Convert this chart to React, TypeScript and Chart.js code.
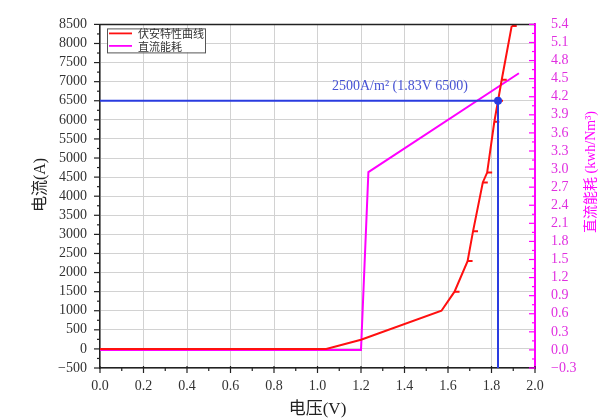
import { useEffect, useRef } from 'react';
import { Chart, registerables } from 'chart.js';

Chart.register(...registerables);

// 伏安特性曲线 (voltage V, current A)
const ivVoltage = [0, 1.04, 1.2, 1.57, 1.63, 1.69, 1.715, 1.76, 1.78, 1.813, 1.83, 1.847, 1.893];
const ivCurrent = [0, 0, 240, 1000, 1500, 2300, 3080, 4360, 4620, 5950, 6500, 7050, 8460];
// 直流能耗 (voltage V, kwh/Nm3)
const energyVoltage = [0, 1.2, 1.234, 1.926];
const energyValue = [0, 0, 2.95, 4.59];
// operating point
const markVoltage = 1.83;
const markCurrent = 6500;
const markLabel = '2500A/m\u00B2 (1.83V 6500)';

const legendLabels = ['伏安特性曲线', '直流能耗'];
const xTitle = '电压(V)';
const yTitle = '电流(A)';
const y2Title = '直流能耗 (kwh/Nm\u00B3)';

const RED = '#ff1010';
const MAGENTA = '#ff00ff';
const BLUE = '#2a3ce0';
const SERIF = '"Liberation Serif", "Noto Sans CJK SC", serif';
const CJK = '"Noto Sans CJK SC", "Liberation Serif", sans-serif';

const fmtNum = (v: number, d: number) => {
  const s = Math.abs(v) < 1e-9 ? (0).toFixed(d) : v.toFixed(d);
  return s.replace('-', '\u2212');
};

const overlay = {
  id: 'overlay',
  afterDraw(chart: any) {
    const { ctx, chartArea: a, scales } = chart;
    const xs = scales.x, ys = scales.y, y2s = scales.y2;
    ctx.save();
    // top frame
    ctx.strokeStyle = '#222';
    ctx.lineWidth = 1.5;
    ctx.beginPath();
    ctx.moveTo(a.left, a.top);
    ctx.lineTo(a.right, a.top);
    ctx.stroke();

    // x ticks
    ctx.lineWidth = 1.2;
    for (let i = 0; i <= 20; i++) {
      const px = xs.getPixelForValue(i * 0.1);
      const major = i % 2 === 0;
      ctx.beginPath();
      ctx.moveTo(px, a.bottom - (major ? 2 : 0));
      ctx.lineTo(px, a.bottom + (major ? 5 : 3));
      ctx.stroke();
    }
    // left ticks
    for (let i = 0; i <= 36; i++) {
      const py = ys.getPixelForValue(-500 + i * 250);
      const major = i % 2 === 0;
      ctx.beginPath();
      ctx.moveTo(a.left - (major ? 6 : 3), py);
      ctx.lineTo(a.left, py);
      ctx.stroke();
    }
    // right ticks (inward)
    ctx.strokeStyle = MAGENTA;
    for (let i = 0; i <= 38; i++) {
      const py = y2s.getPixelForValue(-0.3 + i * 0.15);
      const major = i % 2 === 0;
      ctx.beginPath();
      ctx.moveTo(a.right - (major ? 6 : 3), py);
      ctx.lineTo(a.right, py);
      ctx.stroke();
    }

    // annotation text
    ctx.fillStyle = '#4652d4';
    ctx.font = `14px ${SERIF}`;
    ctx.textAlign = 'right';
    ctx.textBaseline = 'middle';
    ctx.fillText(markLabel, xs.getPixelForValue(markVoltage) - 30, ys.getPixelForValue(markCurrent) - 14);

    // legend
    const lx = a.left + 7, ly = a.top + 4;
    ctx.fillStyle = '#fff';
    ctx.fillRect(lx, ly, 98, 24);
    ctx.strokeStyle = '#555';
    ctx.lineWidth = 1;
    ctx.strokeRect(lx + 0.5, ly + 0.5, 98, 24);
    const colors = [RED, MAGENTA];
    ctx.font = `11px ${CJK}`;
    ctx.textAlign = 'left';
    legendLabels.forEach((t, i) => {
      const yy = ly + 5 + i * 12.5;
      ctx.strokeStyle = colors[i];
      ctx.lineWidth = 1.8;
      ctx.beginPath();
      ctx.moveTo(lx + 2, yy);
      ctx.lineTo(lx + 25, yy);
      ctx.stroke();
      ctx.fillStyle = '#333';
      ctx.fillText(t, lx + 31, yy + 0.5);
    });

    // axis titles
    ctx.fillStyle = '#222';
    ctx.font = `17px ${SERIF}`;
    ctx.textAlign = 'center';
    ctx.fillText(xTitle, (a.left + a.right) / 2, a.bottom + 42);

    ctx.save();
    ctx.translate(a.left - 59, 185);
    ctx.rotate(-Math.PI / 2);
    ctx.font = `16px ${SERIF}`;
    ctx.fillText(yTitle, 0, 0);
    ctx.restore();

    ctx.save();
    ctx.translate(a.right + 56, 172);
    ctx.rotate(-Math.PI / 2);
    ctx.font = `14px ${SERIF}`;
    ctx.fillStyle = MAGENTA;
    ctx.fillText(y2Title, 0, 0);
    ctx.restore();

    ctx.restore();
  },
};

export default function App() {
  const ref = useRef<HTMLCanvasElement>(null);

  useEffect(() => {
    if (!ref.current) return;
    const ivData = ivVoltage.map((v, i) => ({ x: v, y: ivCurrent[i] }));
    const enData = energyVoltage.map((v, i) => ({ x: v, y: energyValue[i] }));
    const markData = [
      { x: 0, y: markCurrent },
      { x: markVoltage, y: markCurrent },
      { x: markVoltage, y: -500 },
    ];
    const chart = new Chart(ref.current, {
      type: 'line',
      data: {
        datasets: [
          {
            label: 'mark',
            data: markData,
            borderColor: BLUE,
            backgroundColor: BLUE,
            borderWidth: 2,
            pointRadius: [0, 3, 0],
            yAxisID: 'y',
            order: 0,
          },
          {
            label: legendLabels[0],
            data: ivData,
            borderColor: RED,
            backgroundColor: RED,
            borderWidth: 2,
            pointStyle: 'dash',
            pointRadius: (c: any) => (c.dataIndex >= 4 ? 5 : 0),
            pointBorderWidth: 2,
            pointBorderColor: RED,
            yAxisID: 'y',
            order: 1,
          },
          {
            label: legendLabels[1],
            data: enData,
            borderColor: MAGENTA,
            backgroundColor: MAGENTA,
            borderWidth: 2,
            pointRadius: 0,
            yAxisID: 'y2',
            order: 2,
          },
        ],
      },
      options: {
        animation: false,
        responsive: true,
        maintainAspectRatio: false,
        layout: { padding: { top: 18, left: 0, right: 0, bottom: 0 } },
        plugins: { legend: { display: false }, tooltip: { enabled: false } },
        elements: { line: { tension: 0 } },
        scales: {
          x: {
            type: 'linear',
            min: 0,
            max: 2,
            afterFit: (s: any) => { s.height = 52; },
            ticks: {
              stepSize: 0.2,
              padding: 10,
              autoSkip: false,
              maxRotation: 0,
              color: '#333',
              font: { family: SERIF, size: 14 },
              callback: (v: any) => fmtNum(Number(v), 1),
            },
            grid: { color: '#d2d2d2', lineWidth: 1, drawTicks: false },
            border: { color: '#222', width: 1.5 },
          },
          y: {
            type: 'linear',
            position: 'left',
            min: -500,
            max: 8500,
            afterFit: (s: any) => { s.width = 100; },
            ticks: {
              stepSize: 500,
              padding: 13,
              autoSkip: false,
              color: '#333',
              font: { family: SERIF, size: 14 },
              callback: (v: any) => fmtNum(Number(v), 0),
            },
            grid: { color: '#d2d2d2', lineWidth: 1, drawTicks: false },
            border: { color: '#222', width: 1.5 },
          },
          y2: {
            type: 'linear',
            position: 'right',
            min: -0.3,
            max: 5.4,
            afterFit: (s: any) => { s.width = 63; },
            ticks: {
              stepSize: 0.3,
              padding: 16,
              autoSkip: false,
              color: '#e030e0',
              font: { family: SERIF, size: 14 },
              callback: (v: any) => fmtNum(Number(v), 1),
            },
            grid: { drawOnChartArea: false, drawTicks: false },
            border: { color: MAGENTA, width: 2 },
          },
        },
      },
      plugins: [overlay],
    } as any);
    return () => chart.destroy();
  }, []);

  return (
    <div style={{ position: 'fixed', left: 0, top: 0, width: 598, height: 420, background: '#fff' }}>
      <canvas ref={ref} />
    </div>
  );
}
